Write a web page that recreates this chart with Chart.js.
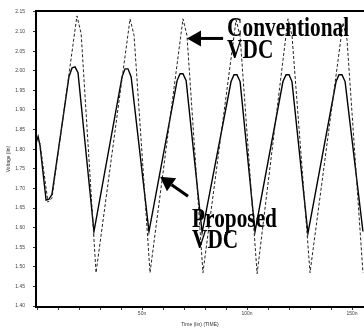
<!DOCTYPE html>
<html>
<head>
<meta charset="utf-8">
<script src="https://cdn.jsdelivr.net/npm/chart.js@4.4.0/dist/chart.umd.min.js"></script>
<style>
  body { margin: 0; background: #fff; }
  canvas { display: block; }
</style>
</head>
<body>
<canvas id="vdc" width="364" height="328"></canvas>
<script>
// ------------------- DATA -------------------
// time in ns, voltage in V
const proposedTime = [-0.5, 0.5, 1.4, 4.3, 5.7, 7.1, 15.2, 16.7, 18.1, 19.5, 27.1,
  40.5, 41.9, 43.3, 44.8, 53.3, 66.7, 68.1, 69.5, 71.0, 78.6,
  92.4, 93.8, 95.2, 96.7, 103.8, 117.1, 118.6, 120.0, 121.4, 129.0,
  142.4, 143.8, 145.2, 146.7, 155.2];
const proposedVolt = [1.815, 1.8325, 1.81, 1.67, 1.6725, 1.685, 1.985, 2.0075, 2.01, 1.995, 1.59,
  1.985, 2.005, 2.005, 1.985, 1.59, 1.975, 1.9925, 1.9925, 1.975, 1.5875,
  1.9725, 1.99, 1.99, 1.9725, 1.59, 1.9725, 1.99, 1.99, 1.9725, 1.585,
  1.9725, 1.99, 1.99, 1.9725, 1.59];

const conventionalTime = [-0.5, 1.4, 5.2, 7.1, 19.0, 21.0, 28.1, 44.3, 46.2, 53.8,
  69.5, 71.4, 79.0, 94.8, 96.7, 104.8, 119.5, 121.4, 130.0, 145.7, 147.6, 155.2];
const conventionalVolt = [1.83, 1.815, 1.665, 1.675, 2.14, 2.095, 1.485, 2.1325, 2.09, 1.485,
  2.1325, 2.09, 1.485, 2.13, 2.0875, 1.4825, 2.1325, 2.09, 1.485, 2.1225, 2.08, 1.485];

const xTickLabels = { 50: "50n", 100: "100n", 150: "150n" };

// labels and arrows drawn on top, placed in data units
const notes = [
  { text: "Conventional", t: 90.5, v: 2.09 },
  { text: "VDC", t: 90.5, v: 2.0325 },
  { text: "Proposed", t: 73.8, v: 1.6025 },
  { text: "VDC", t: 73.8, v: 1.5475 }
];
const arrows = [
  { fromT: 88.6, fromV: 2.0825, toT: 71.4, toV: 2.0825 },
  { fromT: 71.9, fromV: 1.68, toT: 58.6, toV: 1.73 }
];

function toPoints(ts, vs) {
  return ts.map((t, i) => ({ x: t, y: vs[i] }));
}

// ------------------- ANNOTATION PLUGIN -------------------
const notesPlugin = {
  id: "notes",
  afterDatasetsDraw(chart) {
    const ctx = chart.ctx;
    const xs = chart.scales.x, ys = chart.scales.y;

    ctx.save();
    ctx.fillStyle = "#000";
    ctx.strokeStyle = "#000";

    arrows.forEach(a => {
      const x1 = xs.getPixelForValue(a.fromT), y1 = ys.getPixelForValue(a.fromV);
      const x2 = xs.getPixelForValue(a.toT), y2 = ys.getPixelForValue(a.toV);
      const ang = Math.atan2(y2 - y1, x2 - x1);
      const head = 14, half = 8;
      const bx = x2 - head * Math.cos(ang), by = y2 - head * Math.sin(ang);

      ctx.lineWidth = 3;
      ctx.beginPath();
      ctx.moveTo(x1, y1);
      ctx.lineTo(bx, by);
      ctx.stroke();

      ctx.beginPath();
      ctx.moveTo(x2, y2);
      ctx.lineTo(bx + half * Math.sin(ang), by - half * Math.cos(ang));
      ctx.lineTo(bx - half * Math.sin(ang), by + half * Math.cos(ang));
      ctx.closePath();
      ctx.fill();
    });

    ctx.font = "bold 27px 'Liberation Serif'";
    ctx.textBaseline = "alphabetic";
    notes.forEach(n => {
      const x = xs.getPixelForValue(n.t), y = ys.getPixelForValue(n.v);
      ctx.save();
      ctx.translate(x, y);
      ctx.scale(0.79, 1);
      ctx.fillText(n.text, 0, 0);
      ctx.restore();
    });
    ctx.restore();
  }
};

// ------------------- CHART -------------------
const tinyFont = { family: "Arial, 'Liberation Sans'", size: 5 };

new Chart(document.getElementById("vdc"), {
  type: "line",
  data: {
    datasets: [
      {
        label: "Conventional VDC",
        data: toPoints(conventionalTime, conventionalVolt),
        borderColor: "#222",
        borderWidth: 1,
        borderDash: [3, 2],
        pointRadius: 0,
        tension: 0
      },
      {
        label: "Proposed VDC",
        data: toPoints(proposedTime, proposedVolt),
        borderColor: "#000",
        borderWidth: 1.4,
        pointRadius: 0,
        tension: 0
      }
    ]
  },
  options: {
    responsive: false,
    animation: false,
    layout: { padding: 0 },
    plugins: {
      legend: { display: false },
      tooltip: { enabled: false }
    },
    scales: {
      x: {
        type: "linear",
        min: -0.5,
        max: 155.7,
        afterFit: s => { s.height = 21; },
        border: { display: true, color: "#000", width: 2 },
        grid: { drawOnChartArea: false, drawTicks: true, tickLength: 3, color: "#333" },
        ticks: {
          stepSize: 10,
          includeBounds: false,
          autoSkip: false,
          maxRotation: 0,
          padding: 1,
          color: "#444",
          font: tinyFont,
          callback: v => xTickLabels[v] || ""
        },
        title: {
          display: true,
          text: "Time (lin) (TIME)",
          color: "#333",
          font: tinyFont,
          padding: { top: 3, bottom: 0 }
        }
      },
      x2: {
        type: "linear",
        position: "top",
        min: 0,
        max: 1,
        afterFit: s => { s.height = 5; },
        border: { display: true, color: "#000", width: 2 },
        grid: { display: false },
        ticks: { display: false }
      },
      y: {
        min: 1.3975,
        max: 2.1525,
        afterFit: s => { s.width = 36; },
        border: { display: true, color: "#000", width: 2 },
        grid: { drawOnChartArea: false, drawTicks: true, tickLength: 3, color: "#333" },
        ticks: {
          stepSize: 0.05,
          includeBounds: false,
          autoSkip: false,
          padding: 8,
          color: "#444",
          font: tinyFont,
          callback: v => v.toFixed(2)
        },
        title: {
          display: true,
          text: "Voltage (lin)",
          color: "#333",
          font: tinyFont,
          padding: { top: 6, bottom: 0 }
        }
      }
    }
  },
  plugins: [notesPlugin]
});
</script>
</body>
</html>
